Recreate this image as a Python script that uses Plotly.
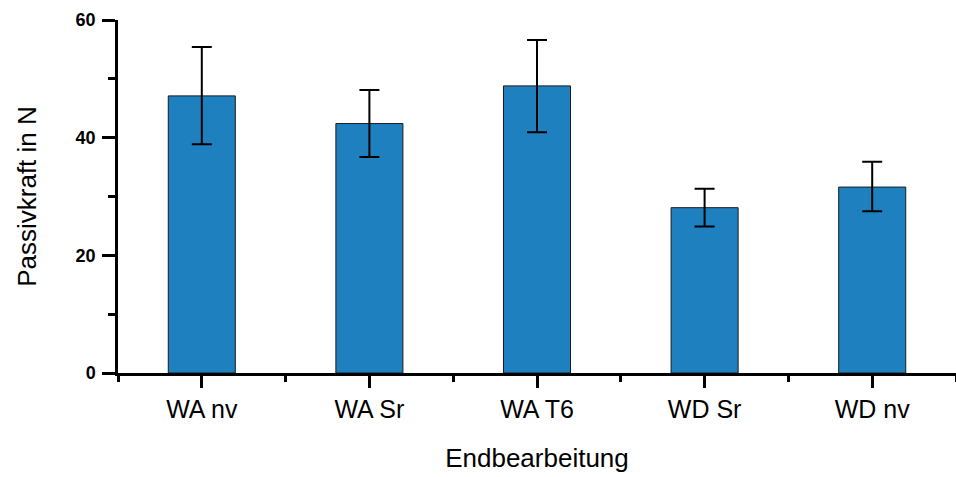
import plotly.graph_objects as go

categories = ["WA nv", "WA Sr", "WA T6", "WD Sr", "WD nv"]
values = [47.1, 42.4, 48.8, 28.1, 31.6]
err_plus = [8.3, 5.7, 7.8, 3.2, 4.3]
err_minus = [8.2, 5.7, 7.9, 3.2, 4.1]
y_ticks = [0, 20, 40, 60]

x_pos = list(range(len(categories)))
bounds = [i - 0.5 for i in range(len(categories) + 1)]

fig = go.Figure()
fig.add_trace(go.Bar(
    x=x_pos, y=values, width=0.4,
    marker=dict(color="#1f80bf", line=dict(color="#1a1a1a", width=1)),
    error_y=dict(type="data", array=err_plus, arrayminus=err_minus,
                 color="black", thickness=2, width=10, visible=True),
))

font = "Arial, Liberation Sans, sans-serif"
fig.update_layout(
    width=956, height=477,
    margin=dict(l=118, r=0, t=20, b=104),
    plot_bgcolor="white", paper_bgcolor="white",
    showlegend=False,
    font=dict(family=font, color="black"),
)
fig.update_xaxes(
    range=[-0.5, len(categories) - 0.5],
    tickmode="array", tickvals=x_pos, ticktext=categories,
    tickfont=dict(size=25, family=font),
    ticks="outside", ticklen=12, tickwidth=2.5, tickcolor="black",
    minor=dict(tickmode="array", tickvals=bounds, ticks="outside", ticklen=6, tickwidth=2.5, tickcolor="black"),
    showline=True, linecolor="black", linewidth=2.5,
    showgrid=False, zeroline=False,
    title=dict(text="Endbearbeitung", font=dict(size=26, family=font), standoff=28),
)
fig.update_yaxes(
    range=[0, 60],
    tickmode="array", tickvals=y_ticks,
    tickfont=dict(size=18, family=font, weight="bold"),
    ticks="outside", ticklen=13, tickwidth=2.5, tickcolor="black",
    ticklabelstandoff=3,
    minor=dict(dtick=10, ticks="outside", ticklen=7, tickwidth=2.5, tickcolor="black"),
    showline=True, linecolor="black", linewidth=2.5,
    showgrid=False, zeroline=False,
    title=dict(text="Passivkraft in N", font=dict(size=26, family=font), standoff=32),
)

fig.write_html("out.html")
